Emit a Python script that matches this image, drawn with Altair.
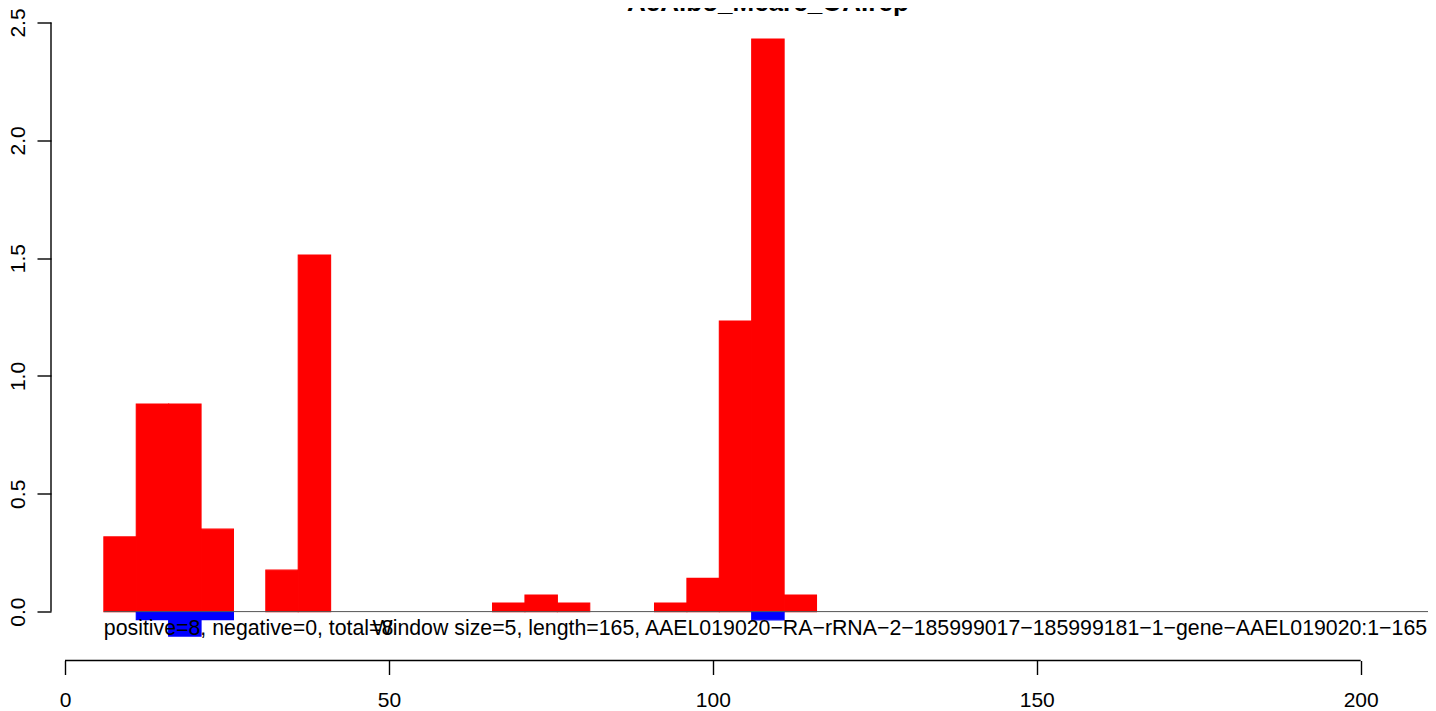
import altair as alt
import pandas as pd

# ---- data ----
title_text = "AeAlbo_Mcarc_OA.rep"
window = 5
pos_starts = [6, 11, 16, 21, 31, 36, 66, 71, 76, 91, 96, 101, 106, 111]
pos_values = [0.317, 0.881, 0.881, 0.350, 0.176, 1.513, 0.036, 0.070, 0.036,
              0.036, 0.141, 1.233, 2.430, 0.070]
neg_starts = [11, 16, 21, 106]
neg_values = [-0.034, -0.104, -0.034, -0.035]
x_ticks = [0, 50, 100, 150, 200]
y_ticks = [0.0, 0.5, 1.0, 1.5, 2.0, 2.5]
x_domain = [-2.161, 210.39]
y_domain = [-0.2075, 2.5]
baseline_span = [6, 211]
note_anchor = [6, 210.25]
x_axis_span = [0, 200]
y_axis_span = [0.0, 2.5]
left_note = "positive=8, negative=0, total=8"
right_note = ("Window size=5, length=165, AAEL019020\u2212RA\u2212rRNA\u22122\u2212"
              "185999017\u2212185999181\u22121\u2212gene\u2212AAEL019020:1\u2212165")
note_y = -0.099

# ---- layout ----
W, H = 1377, 638
FONT = "Liberation Sans"

pos_df = pd.DataFrame({"start": pos_starts,
                       "end": [s + window for s in pos_starts],
                       "base": [0.0] * len(pos_starts),
                       "value": pos_values})
neg_df = pd.DataFrame({"start": neg_starts,
                       "end": [s + window for s in neg_starts],
                       "base": [0.0] * len(neg_starts),
                       "value": neg_values})

xs = alt.Scale(domain=x_domain, nice=False, zero=False)
ys = alt.Scale(domain=y_domain, nice=False, zero=False)

x_axis = alt.Axis(values=x_ticks, format="d", domain=False, grid=False,
                  tickSize=14, tickColor="black", tickWidth=1.4,
                  labelFontSize=21, labelFont=FONT, labelColor="black",
                  labelPadding=32, labelBaseline="alphabetic",
                  labelFlush=False, labelOverlap=False, title=None)
y_axis = alt.Axis(values=y_ticks, format=".1f", domain=False, grid=False,
                  tickSize=14, tickColor="black", tickWidth=1.4,
                  labelFontSize=21, labelFont=FONT, labelColor="black",
                  labelAngle=270, labelAlign="center",
                  labelBaseline="alphabetic", labelPadding=12.5,
                  labelFlush=False, labelOverlap=False, title=None)


def X(field):
    return alt.X(field, scale=xs, axis=x_axis)


def Y(field):
    return alt.Y(field, scale=ys, axis=y_axis)


red = alt.Chart(pos_df).mark_rect(color="#FF0000", stroke="#FF0000", strokeWidth=1.1).encode(
    x=X("start:Q"), x2="end:Q", y=Y("base:Q"), y2="value:Q",
)

blue = alt.Chart(neg_df).mark_rect(color="#0000FF", stroke="#0000FF", strokeWidth=1.1).encode(
    x=X("start:Q"), x2="end:Q", y=Y("base:Q"), y2="value:Q",
)

zero_df = pd.DataFrame({"start": [baseline_span[0]], "end": [baseline_span[1]], "base": [0.0]})
zero_line = alt.Chart(zero_df).mark_rule(color="#555555", strokeWidth=1).encode(
    x=X("start:Q"), x2="end:Q", y=Y("base:Q"),
)

xline_df = pd.DataFrame({"start": [x_axis_span[0]], "end": [x_axis_span[1]]})
x_line = alt.Chart(xline_df).mark_rule(color="black", strokeWidth=1.4).encode(
    x=X("start:Q"), x2="end:Q", y=alt.value(H),
)

yline_df = pd.DataFrame({"base": [y_axis_span[0]], "value": [y_axis_span[1]]})
y_line = alt.Chart(yline_df).mark_rule(color="black", strokeWidth=1.4).encode(
    y=Y("base:Q"), y2="value:Q", x=alt.value(0),
)

left_df = pd.DataFrame({"start": [note_anchor[0]], "base": [note_y], "t": [left_note]})
left_txt = alt.Chart(left_df).mark_text(
    align="left", baseline="alphabetic", font=FONT, fontSize=21.3, color="black"
).encode(x=X("start:Q"), y=Y("base:Q"), text="t:N")

right_df = pd.DataFrame({"start": [note_anchor[1]], "base": [note_y], "t": [right_note]})
right_txt = alt.Chart(right_df).mark_text(
    align="right", baseline="alphabetic", font=FONT, fontSize=21.3, color="black"
).encode(x=X("start:Q"), y=Y("base:Q"), text="t:N")

title_df = pd.DataFrame({"start": [sum(baseline_span) / 2], "t": [title_text]})
title_txt = alt.Chart(title_df).mark_text(
    align="center", baseline="alphabetic", font=FONT, fontSize=26,
    fontWeight="bold", color="black"
).encode(x=X("start:Q"), y=alt.value(-12), text="t:N")

chart = alt.layer(
    red, blue, zero_line, x_line, y_line, left_txt, right_txt, title_txt
).properties(
    width=W, height=H,
    autosize=alt.AutoSizeParams(type="none"),
    padding={"left": 43, "top": 14.5, "right": 0, "bottom": 50},
    background="white",
).configure_view(stroke=None)

chart.save("out.html", embed_options={"renderer": "svg", "actions": False})
